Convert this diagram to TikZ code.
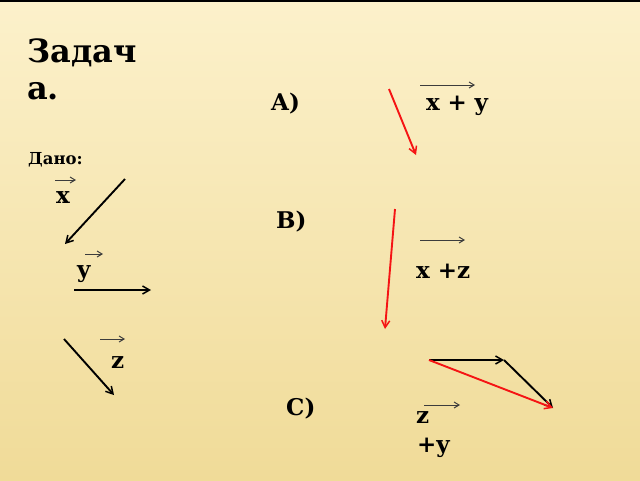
\documentclass[tikz,border=0pt]{standalone}
\usepackage{fontspec}
\setmainfont{DejaVu Serif}
\usetikzlibrary{arrows.meta}
\definecolor{bgtop}{RGB}{252,241,203}
\definecolor{bgbot}{RGB}{240,219,152}
\definecolor{vred}{RGB}{245,20,20}
\definecolor{lblgray}{RGB}{60,60,60}
\tikzset{
  txt/.style={anchor=base west, inner sep=0pt, font=\bfseries\fontsize{23}{27}\selectfont},
  vec/.style={line width=1.9pt, -{Straight Barb[length=7pt,width=8pt,line width=1.5pt]}},
  redvec/.style={vec, draw=vred},
  lblarrow/.style={line width=1pt, draw=lblgray, -{Straight Barb[length=5pt,width=6pt,line width=1pt]}}
}
\begin{document}
\begin{tikzpicture}[x=1pt,y=-1pt]
\useasboundingbox (0,0) rectangle (640,480);
\shade[top color=bgtop, bottom color=bgbot] (0,0) rectangle (640,480);
\fill[black] (0,0) rectangle (640,1.6);
% title
\node[anchor=base west, inner sep=0pt, font=\bfseries\fontsize{32}{37}\selectfont] (title1) at (27,62) {Задач};
\node[anchor=base west, inner sep=0pt, font=\bfseries\fontsize{32}{37}\selectfont] (title2) at (27,99) {а.};
\node[anchor=base west, inner sep=0pt, font=\bfseries\fontsize{16.5}{19}\selectfont] (dano) at (28,164) {Дано:};
% section labels
\node[txt] (lA) at (271,110) {A)};
\node[txt] (lB) at (276,228) {B)};
\node[txt] (lC) at (286,415) {C)};
% given labels
\node[txt] (lx) at (56,203) {x};
\node[txt] (ly) at (77,277) {y};
\node[txt] (lz) at (111,368) {z};
\node[txt] (lxy) at (426,110) {x\,\,+\,\,y};
\node[txt] (lxz) at (416,278) {x +z};
\node[txt] (lzy1) at (416,423) {z};
\node[txt] (lzy2) at (417,452) {+y};
% label arrows
\coordinate (axs) at (55,180); \coordinate (axe) at (76,180);
\coordinate (ays) at (85,254); \coordinate (aye) at (103,254);
\coordinate (azs) at (100,339); \coordinate (aze) at (125,339);
\coordinate (axys) at (420,85); \coordinate (axye) at (475,85);
\coordinate (axzs) at (420,240); \coordinate (axze) at (465,240);
\coordinate (azys) at (424,405); \coordinate (azye) at (460,405);
\draw[lblarrow] (axs) -- (axe);
\draw[lblarrow] (ays) -- (aye);
\draw[lblarrow] (azs) -- (aze);
\draw[lblarrow] (axys) -- (axye);
\draw[lblarrow] (axzs) -- (axze);
\draw[lblarrow] (azys) -- (azye);
% given vectors
\coordinate (xs) at (125,179); \coordinate (xe) at (65,244);
\coordinate (ys) at (74,290); \coordinate (ye) at (151,290);
\coordinate (zs) at (64,339); \coordinate (ze) at (114,395);
\draw[vec] (xs) -- (xe);
\draw[vec] (ys) -- (ye);
\draw[vec] (zs) -- (ze);
% A)
\coordinate (as) at (389,89); \coordinate (ae) at (416,155);
\draw[redvec] (as) -- (ae);
% B)
\coordinate (bs) at (395,209); \coordinate (be) at (385,329);
\draw[redvec] (bs) -- (be);
% C)
\coordinate (cs) at (429,360); \coordinate (cm) at (504,360); \coordinate (ce) at (553,408);
\draw[vec] (cs) -- (cm);
\draw[vec] (cm) -- (ce);
\draw[redvec] (cs) -- (ce);
\end{tikzpicture}
\end{document}
